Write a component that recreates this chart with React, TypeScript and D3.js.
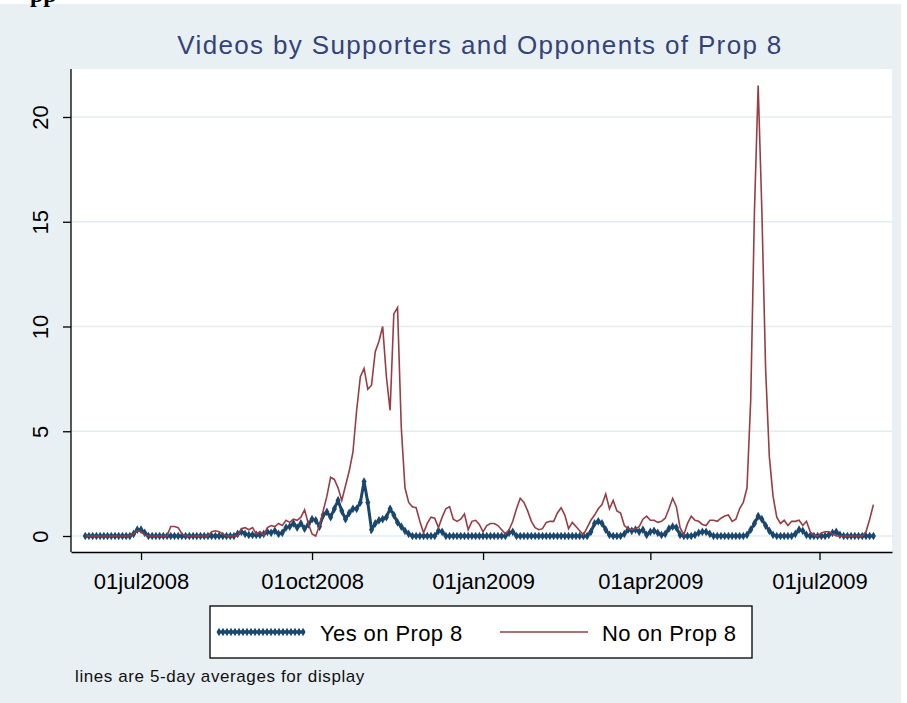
import React, { useEffect, useRef } from 'react';
import * as d3 from 'd3';

// one value every 2 days, from 01jun2008 (5-day averages)
const startDay = new Date(2008, 5, 1);
const stepDays = 2;

const yesOnProp8 = [
  0, 0, 0, 0, 0, 0, 0, 0, 0, 0,
  0, 0, 0, 0.1, 0.3, 0.3, 0.15, 0, 0, 0,
  0, 0, 0, 0, 0, 0, 0, 0, 0, 0,
  0, 0, 0, 0, 0, 0, 0, 0, 0, 0,
  0, 0.1, 0.2, 0.1, 0.05, 0.05, 0.05, 0.05, 0.1, 0.2,
  0.15, 0.25, 0.1, 0.15, 0.4, 0.45, 0.6, 0.4, 0.6, 0.35,
  0.55, 0.8, 0.75, 0.45, 1.0, 1.15, 0.9, 1.3, 1.7, 1.2,
  0.8, 1.1, 1.3, 1.3, 1.6, 2.6, 1.6, 0.3, 0.6, 0.75,
  0.8, 0.9, 1.3, 1.0, 0.65, 0.45, 0.25, 0.1, 0, 0,
  0, 0, 0, 0, 0, 0.25, 0.2, 0, 0, 0,
  0, 0, 0, 0, 0, 0, 0, 0, 0, 0,
  0, 0, 0, 0, 0.15, 0.2, 0, 0, 0, 0,
  0, 0, 0, 0, 0, 0, 0, 0, 0, 0,
  0, 0, 0, 0, 0, 0, 0.2, 0.6, 0.7, 0.6,
  0.3, 0.05, 0, 0, 0, 0.1, 0.3, 0.25, 0.3, 0.2,
  0.3, 0.05, 0.2, 0.25, 0.15, 0.05, 0.1, 0.35, 0.45, 0.4,
  0.05, 0, 0, 0, 0.05, 0.15, 0.2, 0.2, 0.1, 0,
  0, 0, 0, 0, 0, 0, 0, 0, 0.05, 0.3,
  0.6, 0.95, 0.8, 0.5, 0.25, 0.05, 0, 0, 0, 0,
  0, 0.1, 0.3, 0.25, 0.05, 0, 0, 0, 0, 0,
  0.05, 0.15, 0.2, 0.05, 0, 0, 0, 0, 0, 0,
  0, 0, 0,
];

const noOnProp8 = [
  0, 0, 0, 0, 0, 0, 0, 0, 0, 0,
  0, 0, 0, 0.1, 0.25, 0.2, 0.05, 0, 0, 0,
  0, 0, 0, 0.45, 0.45, 0.4, 0.1, 0, 0, 0,
  0, 0, 0, 0, 0.2, 0.25, 0.2, 0.1, 0, 0,
  0, 0, 0.35, 0.4, 0.3, 0.4, 0.1, 0.2, 0.05, 0.4,
  0.5, 0.45, 0.6, 0.5, 0.75, 0.65, 0.8, 0.75, 0.9, 1.25,
  0.6, 0.1, 0, 0.5, 1.2, 1.9, 2.8, 2.7, 2.3, 1.7,
  2.4, 3.1, 4.0, 6.0, 7.6, 8.0, 7.0, 7.2, 8.8, 9.3,
  10.0, 7.6, 6.0, 10.6, 10.9, 5.2, 2.3, 1.6, 1.4, 1.35,
  0.7, 0.15, 0.6, 0.9, 0.85, 0.4, 0.9, 1.3, 1.4, 0.8,
  0.7, 0.8, 1.05, 0.3, 0.7, 0.75, 0.55, 0.2, 0.5, 0.6,
  0.6, 0.5, 0.3, 0.1, 0.3, 0.7, 1.3, 1.8, 1.6, 1.2,
  0.7, 0.4, 0.3, 0.35, 0.65, 0.7, 0.7, 1.1, 1.35, 1.0,
  0.35, 0.65, 0.45, 0.25, 0.05, 0.4, 0.75, 1.0, 1.3, 1.5,
  2.0, 1.3, 1.7, 1.2, 1.1, 0.5, 0.35, 0.3, 0.35, 0.45,
  0.8, 0.95, 0.75, 0.75, 0.65, 0.7, 0.85, 1.3, 1.8, 1.4,
  0.4, 0.05, 0.6, 0.95, 0.75, 0.7, 0.55, 0.5, 0.75, 0.75,
  0.7, 0.85, 0.95, 1.0, 0.7, 0.8, 1.3, 1.6, 2.3, 6.5,
  15.5, 21.5, 15.5, 8.0, 3.8, 1.9, 0.9, 0.6, 0.75, 0.5,
  0.7, 0.7, 0.75, 0.5, 0.7, 0.2, 0.05, 0, 0.15, 0.2,
  0.2, 0.1, 0, 0, 0, 0, 0, 0, 0, 0,
  0.2, 0.8, 1.5,
];

const dates = yesOnProp8.map((_, i) => d3.timeDay.offset(startDay, i * stepDays));
const xTickDates = [
  new Date(2008, 6, 1),
  new Date(2008, 9, 1),
  new Date(2009, 0, 1),
  new Date(2009, 3, 1),
  new Date(2009, 6, 1),
];
const yTicks = [0, 5, 10, 15, 20];
const seriesLabels = ['Yes on Prop 8', 'No on Prop 8'];
const titleText = 'Videos by Supporters and Opponents of Prop 8';
const noteText = 'lines are 5-day averages for display';

const FONT = '"Liberation Sans", Arial, sans-serif';
const NAVY = '#1a476f';
const MAROON = '#983d45';

function App() {
  const chartRef = useRef<SVGSVGElement>(null);

  useEffect(() => {
    const svg = d3.select(chartRef.current);
    svg.selectAll('*').remove();

    const plot = { left: 71, right: 892, top: 69, bottom: 552 };

    // backgrounds
    svg.append('rect').attr('width', 907).attr('height', 703).attr('fill', '#ffffff');
    svg.append('rect').attr('x', 0).attr('y', 4).attr('width', 901).attr('height', 699).attr('fill', '#e8f0f4');
    // cut heading from the page above
    svg.append('text').attr('x', 30).attr('y', 2)
      .attr('font-family', '"Liberation Serif", "Times New Roman", serif')
      .attr('font-weight', 'bold').attr('font-size', 24).attr('fill', '#000').text('pp');

    svg.append('text').attr('x', 480).attr('y', 54).attr('text-anchor', 'middle')
      .attr('font-family', FONT).attr('font-size', 26).attr('letter-spacing', 1.35)
      .attr('fill', '#33437a').text(titleText);

    svg.append('rect').attr('x', plot.left).attr('y', plot.top)
      .attr('width', plot.right - plot.left).attr('height', plot.bottom - plot.top).attr('fill', '#fff');

    const x = d3.scaleTime()
      .domain([new Date(2008, 4, 24, 8), new Date(2009, 7, 9)])
      .range([plot.left, plot.right]);
    const y = d3.scaleLinear().domain([0, 20]).range([536, 117]);

    // gridlines
    svg.append('g').selectAll('line').data(yTicks).enter().append('line')
      .attr('x1', plot.left).attr('x2', plot.right)
      .attr('y1', d => y(d)).attr('y2', d => y(d))
      .attr('stroke', '#e2ecf1').attr('stroke-width', 1.5);

    // x axis
    const fmt = d3.timeFormat('%d%b%Y');
    const xAxis = d3.axisBottom(x).tickValues(xTickDates).tickSize(8).tickSizeOuter(0).tickPadding(13)
      .tickFormat(d => fmt(d as Date).toLowerCase());
    const gx = svg.append('g').attr('transform', `translate(0,${plot.bottom})`).call(xAxis);
    gx.select('.domain').attr('stroke', '#000').attr('stroke-width', 1.3);
    gx.selectAll('.tick line').attr('stroke', '#000').attr('stroke-width', 1.3);
    gx.selectAll('.tick text').attr('font-family', FONT).attr('font-size', 22).attr('fill', '#000');

    // y axis
    const yAxis = d3.axisLeft(y).tickValues(yTicks).tickSize(8);
    const gy = svg.append('g').attr('transform', `translate(${plot.left},0)`).call(yAxis);
    gy.select('.domain').remove();
    gy.selectAll('.tick line').attr('stroke', '#000').attr('stroke-width', 1.3);
    gy.selectAll('.tick text')
      .attr('x', null).attr('dy', null)
      .attr('transform', 'translate(-23,0) rotate(-90)')
      .attr('text-anchor', 'middle')
      .attr('font-family', FONT).attr('font-size', 22).attr('fill', '#000');
    svg.append('line').attr('x1', plot.left).attr('x2', plot.left)
      .attr('y1', plot.top).attr('y2', plot.bottom).attr('stroke', '#000').attr('stroke-width', 1.3);

    // series
    const yesData = dates.map((d, i) => ({ d, v: yesOnProp8[i] }));
    const noData = dates.map((d, i) => ({ d, v: noOnProp8[i] }));
    const line = d3.line<{ d: Date; v: number }>().x(p => x(p.d)).y(p => y(p.v));
    const diamond = d3.symbol().type(d3.symbolDiamond).size(22);

    svg.append('path').datum(yesData).attr('d', line)
      .attr('fill', 'none').attr('stroke', NAVY).attr('stroke-width', 3);
    svg.append('g').selectAll('path').data(yesData).enter().append('path')
      .attr('d', diamond).attr('transform', p => `translate(${x(p.d)},${y(p.v)})`).attr('fill', NAVY);

    svg.append('path').datum(noData).attr('d', line)
      .attr('fill', 'none').attr('stroke', MAROON).attr('stroke-width', 1.6).attr('stroke-linejoin', 'miter');

    // legend
    const lg = svg.append('g');
    lg.append('rect').attr('x', 210).attr('y', 606).attr('width', 542).attr('height', 52)
      .attr('fill', '#fff').attr('stroke', '#000').attr('stroke-width', 1.3);
    lg.append('line').attr('x1', 219).attr('x2', 305).attr('y1', 632).attr('y2', 632)
      .attr('stroke', NAVY).attr('stroke-width', 3);
    lg.selectAll('path.mk').data(d3.range(219, 306, 4)).enter().append('path')
      .attr('class', 'mk').attr('d', diamond).attr('transform', d => `translate(${d},632)`).attr('fill', NAVY);
    lg.append('text').attr('x', 320).attr('y', 641).attr('font-family', FONT).attr('font-size', 22)
      .attr('letter-spacing', 0.4).attr('fill', '#000').text(seriesLabels[0]);
    lg.append('line').attr('x1', 500).attr('x2', 588).attr('y1', 632).attr('y2', 632)
      .attr('stroke', MAROON).attr('stroke-width', 1.6);
    lg.append('text').attr('x', 602).attr('y', 641).attr('font-family', FONT).attr('font-size', 22)
      .attr('letter-spacing', 0.4).attr('fill', '#000').text(seriesLabels[1]);

    svg.append('text').attr('x', 75).attr('y', 682).attr('font-family', FONT).attr('font-size', 17)
      .attr('letter-spacing', 0.6).attr('fill', '#111').text(noteText);
  }, []);

  return (
    <svg
      ref={chartRef}
      width={907}
      height={703}
      style={{ position: 'absolute', left: 0, top: 0, display: 'block' }}
    />
  );
}

export default App;
